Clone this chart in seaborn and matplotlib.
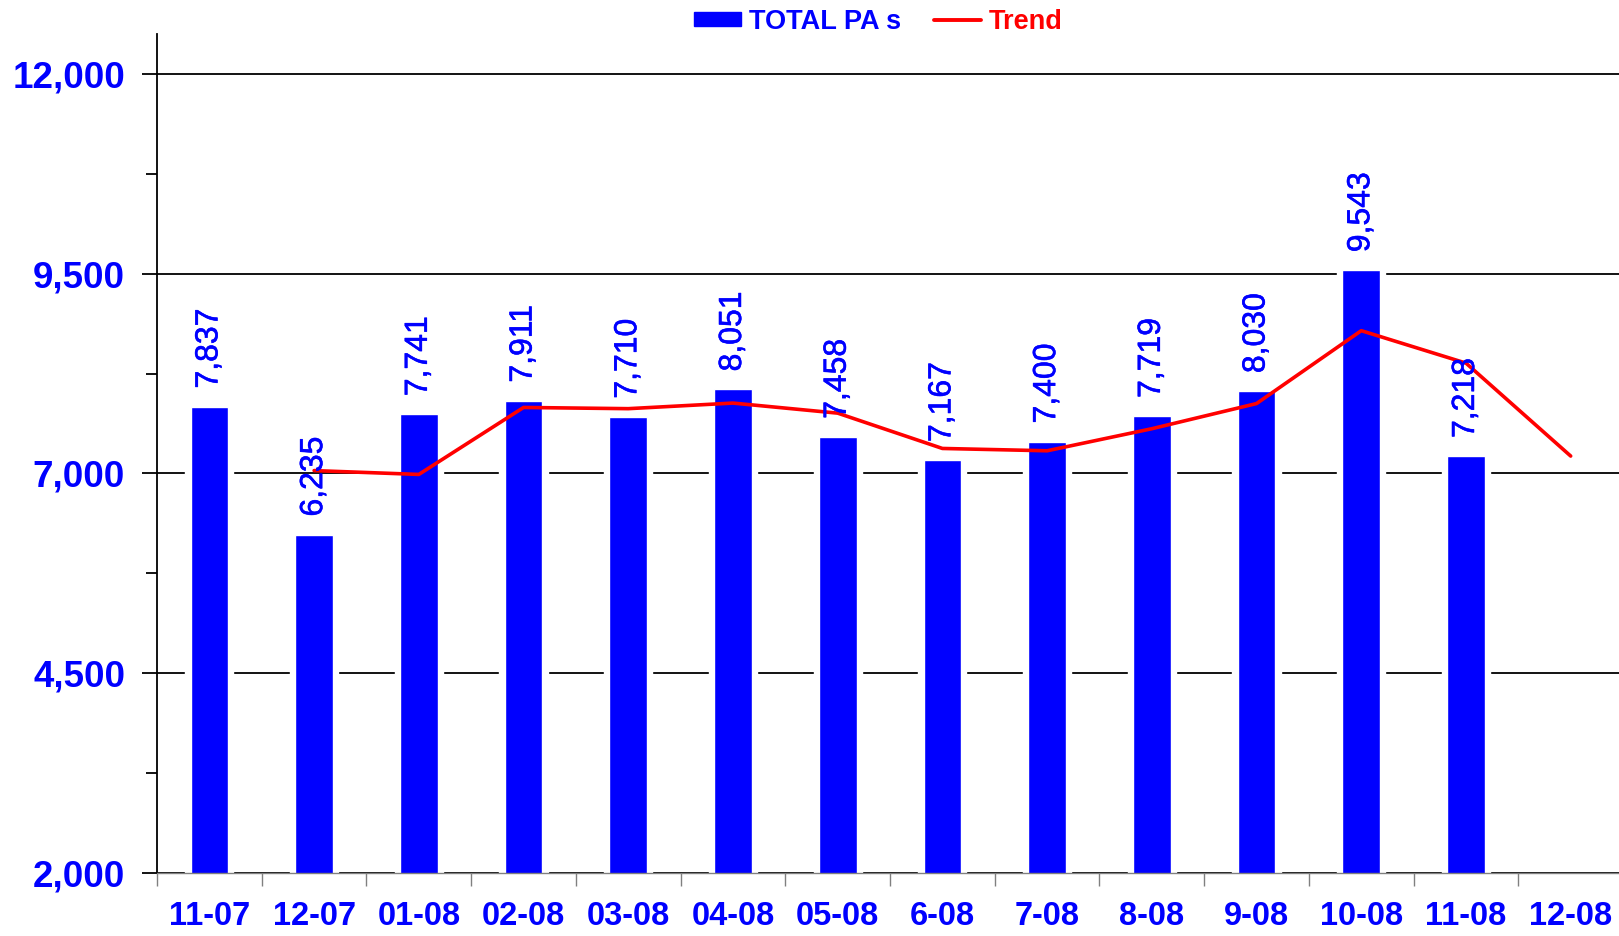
import numpy as np
import pandas as pd
import matplotlib
matplotlib.use("Agg")
import matplotlib.pyplot as plt
import matplotlib.patheffects as pe
from matplotlib.patches import Patch
from matplotlib.lines import Line2D
from matplotlib.ticker import FuncFormatter
import seaborn as sns

# ---- data ----
months = ["11-07", "12-07", "01-08", "02-08", "03-08", "04-08", "05-08",
          "6-08", "7-08", "8-08", "9-08", "10-08", "11-08", "12-08"]
bar_months = months[:13]
total_pas = [7837, 6235, 7741, 7911, 7710, 8051, 7458, 7167, 7400, 7719, 8030, 9543, 7218]
trend_months = months[1:]
trend_vals = [7036, 6988, 7826, 7811, 7881, 7755, 7313, 7284, 7560, 7875, 8787, 8381, 7218]
y_ticks = [2000, 4500, 7000, 9500, 12000]

BLUE = "#0000FF"
RED = "#FF0000"

sns.set_style("white")
plt.rcParams["font.family"] = ["Liberation Sans", "DejaVu Sans"]

fig = plt.figure(figsize=(16.19, 9.36), dpi=100)
ax = fig.add_axes([0.097, 0.0673, 0.9055, 0.8964])

df_bar = pd.DataFrame({"month": bar_months, "value": total_pas})
# white halo bars (create gaps in gridlines around bars)
sns.barplot(data=df_bar, x="month", y="value", order=months, color="white",
            saturation=1, width=0.46, ax=ax, zorder=1)
sns.barplot(data=df_bar, x="month", y="value", order=months, color=BLUE,
            saturation=1, width=0.36, ax=ax, zorder=2)

df_tr = pd.DataFrame({"pos": [months.index(m) for m in trend_months], "value": trend_vals})
sns.lineplot(data=df_tr, x="pos", y="value", color=RED, linewidth=2.6, ax=ax,
             zorder=4, sort=False)

# value labels
for i, v in enumerate(total_pas):
    ax.annotate(f"{v:,}", xy=(i, v), xytext=(0, 13), textcoords="offset points",
                rotation=90, ha="center", va="bottom", color=BLUE, fontsize=23,
                zorder=5,
                path_effects=[pe.withStroke(linewidth=0.4, foreground=BLUE)])

ax.set_ylim(2000, 12500)
ax.set_xlim(-0.5, 13.5)
ax.set_xlabel("")
ax.set_ylabel("")

# y axis
ax.set_yticks(y_ticks)
ax.set_yticks([3250, 5750, 8250, 10750], minor=True)
ax.yaxis.set_major_formatter(FuncFormatter(lambda v, p: f"{int(v):,}"))
ax.tick_params(axis="y", which="major", length=11, width=1.3, color="black",
               labelsize=26.5, labelcolor=BLUE, pad=12, left=True)
ax.tick_params(axis="y", which="minor", length=8, width=1.3, color="black", left=True)
for t in ax.get_yticklabels():
    t.set_fontweight("bold")

# x axis
ax.set_xticks(range(len(months)))
ax.set_xticklabels(months)
ax.set_xticks(np.arange(-0.5, len(months), 1), minor=True)
ax.tick_params(axis="x", which="major", length=0, labelsize=23.5, labelcolor=BLUE, pad=20)
ax.tick_params(axis="x", which="minor", length=9, width=1, color="#808080", bottom=True)
for t in ax.get_xticklabels():
    t.set_fontweight("bold")

ax.yaxis.grid(True, color="black", linewidth=1.3)
ax.xaxis.grid(False)
ax.set_axisbelow(True)

for s in ["top", "right"]:
    ax.spines[s].set_visible(False)
ax.spines["left"].set_color("black")
ax.spines["left"].set_linewidth(1.3)
ax.spines["bottom"].set_color("#808080")
ax.spines["bottom"].set_linewidth(1.0)

handles = [Patch(facecolor=BLUE, edgecolor=BLUE),
           Line2D([0], [0], color=RED, linewidth=2.8)]
leg = fig.legend(handles, ["TOTAL PA s", "Trend"], loc="center",
                 bbox_to_anchor=(0.5425, 0.977), ncol=2, frameon=False,
                 prop={"size": 19.5, "weight": "bold"}, handlelength=1.75,
                 handleheight=0.42, handletextpad=0.3, columnspacing=1.2)
for txt, c in zip(leg.get_texts(), [BLUE, RED]):
    txt.set_color(c)

fig.savefig("out.png", dpi=100)
